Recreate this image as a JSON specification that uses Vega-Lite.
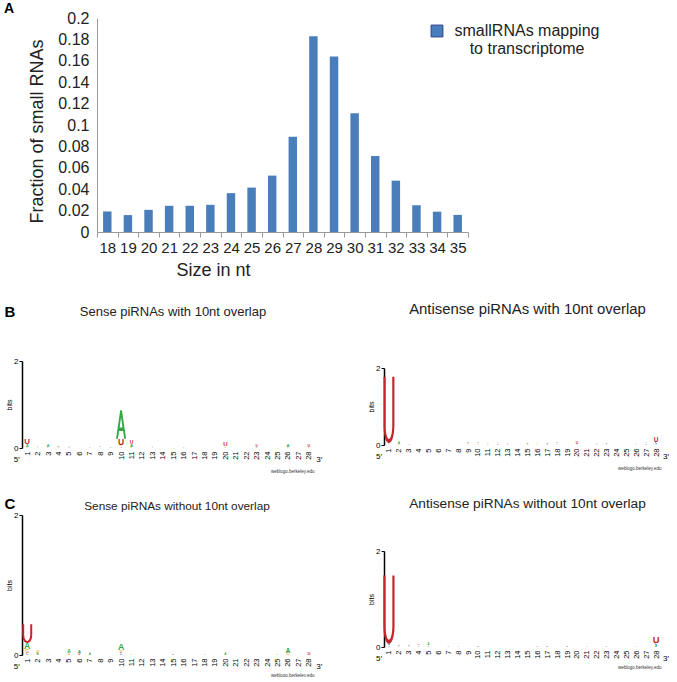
{
  "$schema": "https://vega.github.io/schema/vega-lite/v6.json",
  "background": "white",
  "padding": {"left": 4, "top": 2, "right": 0, "bottom": 0},
  "config": {"view": {"stroke": null}, "font": "Liberation Sans", "axis": {"labelFont": "Liberation Sans", "titleFont": "Liberation Sans"}},
  "datasets": {
    "bars": [
      {"size": 18, "fraction": 0.0192, "series": "smallRNAs mapping to transcriptome"},
      {"size": 19, "fraction": 0.0158, "series": "smallRNAs mapping to transcriptome"},
      {"size": 20, "fraction": 0.0207, "series": "smallRNAs mapping to transcriptome"},
      {"size": 21, "fraction": 0.0245, "series": "smallRNAs mapping to transcriptome"},
      {"size": 22, "fraction": 0.0245, "series": "smallRNAs mapping to transcriptome"},
      {"size": 23, "fraction": 0.0254, "series": "smallRNAs mapping to transcriptome"},
      {"size": 24, "fraction": 0.0363, "series": "smallRNAs mapping to transcriptome"},
      {"size": 25, "fraction": 0.0415, "series": "smallRNAs mapping to transcriptome"},
      {"size": 26, "fraction": 0.0527, "series": "smallRNAs mapping to transcriptome"},
      {"size": 27, "fraction": 0.089, "series": "smallRNAs mapping to transcriptome"},
      {"size": 28, "fraction": 0.183, "series": "smallRNAs mapping to transcriptome"},
      {"size": 29, "fraction": 0.164, "series": "smallRNAs mapping to transcriptome"},
      {"size": 30, "fraction": 0.111, "series": "smallRNAs mapping to transcriptome"},
      {"size": 31, "fraction": 0.071, "series": "smallRNAs mapping to transcriptome"},
      {"size": 32, "fraction": 0.048, "series": "smallRNAs mapping to transcriptome"},
      {"size": 33, "fraction": 0.025, "series": "smallRNAs mapping to transcriptome"},
      {"size": 34, "fraction": 0.019, "series": "smallRNAs mapping to transcriptome"},
      {"size": 35, "fraction": 0.016, "series": "smallRNAs mapping to transcriptome"}
    ],
    "BL": [
      {"pos": 1, "letter": "G", "bits": 0.03}, {"pos": 1, "letter": "A", "bits": 0.06}, {"pos": 1, "letter": "U", "bits": 0.13},
      {"pos": 2, "letter": "G", "bits": 0.02}, {"pos": 2, "letter": "A", "bits": 0.03},
      {"pos": 3, "letter": "G", "bits": 0.02}, {"pos": 3, "letter": "A", "bits": 0.06},
      {"pos": 4, "letter": "A", "bits": 0.03}, {"pos": 4, "letter": "U", "bits": 0.035},
      {"pos": 5, "letter": "C", "bits": 0.02}, {"pos": 5, "letter": "A", "bits": 0.025},
      {"pos": 7, "letter": "U", "bits": 0.015},
      {"pos": 8, "letter": "A", "bits": 0.01}, {"pos": 8, "letter": "U", "bits": 0.02},
      {"pos": 9, "letter": "U", "bits": 0.02},
      {"pos": 10, "letter": "C", "bits": 0.03}, {"pos": 10, "letter": "G", "bits": 0.04}, {"pos": 10, "letter": "U", "bits": 0.14}, {"pos": 10, "letter": "A", "bits": 0.66},
      {"pos": 11, "letter": "G", "bits": 0.03}, {"pos": 11, "letter": "A", "bits": 0.07}, {"pos": 11, "letter": "U", "bits": 0.08},
      {"pos": 13, "letter": "A", "bits": 0.02}, {"pos": 13, "letter": "G", "bits": 0.025},
      {"pos": 16, "letter": "A", "bits": 0.03},
      {"pos": 20, "letter": "G", "bits": 0.04}, {"pos": 20, "letter": "U", "bits": 0.1},
      {"pos": 23, "letter": "A", "bits": 0.03}, {"pos": 23, "letter": "U", "bits": 0.05},
      {"pos": 26, "letter": "G", "bits": 0.03}, {"pos": 26, "letter": "A", "bits": 0.07},
      {"pos": 28, "letter": "G", "bits": 0.02}, {"pos": 28, "letter": "U", "bits": 0.06}
    ],
    "BR": [
      {"pos": 1, "letter": "C", "bits": 0.02}, {"pos": 1, "letter": "A", "bits": 0.03}, {"pos": 1, "letter": "U", "bits": 1.72},
      {"pos": 2, "letter": "G", "bits": 0.03}, {"pos": 2, "letter": "A", "bits": 0.06},
      {"pos": 3, "letter": "A", "bits": 0.04},
      {"pos": 7, "letter": "A", "bits": 0.02},
      {"pos": 9, "letter": "A", "bits": 0.02}, {"pos": 9, "letter": "G", "bits": 0.03}, {"pos": 9, "letter": "U", "bits": 0.035},
      {"pos": 10, "letter": "A", "bits": 0.03}, {"pos": 10, "letter": "U", "bits": 0.03},
      {"pos": 11, "letter": "G", "bits": 0.03}, {"pos": 11, "letter": "A", "bits": 0.03},
      {"pos": 12, "letter": "U", "bits": 0.03}, {"pos": 12, "letter": "A", "bits": 0.03},
      {"pos": 13, "letter": "G", "bits": 0.02}, {"pos": 13, "letter": "U", "bits": 0.02},
      {"pos": 15, "letter": "A", "bits": 0.03}, {"pos": 15, "letter": "U", "bits": 0.04},
      {"pos": 16, "letter": "G", "bits": 0.03}, {"pos": 16, "letter": "A", "bits": 0.03},
      {"pos": 17, "letter": "A", "bits": 0.03}, {"pos": 17, "letter": "U", "bits": 0.04},
      {"pos": 18, "letter": "A", "bits": 0.03}, {"pos": 18, "letter": "U", "bits": 0.03},
      {"pos": 20, "letter": "A", "bits": 0.02}, {"pos": 20, "letter": "U", "bits": 0.06},
      {"pos": 22, "letter": "G", "bits": 0.02}, {"pos": 22, "letter": "A", "bits": 0.03},
      {"pos": 23, "letter": "A", "bits": 0.02}, {"pos": 23, "letter": "U", "bits": 0.03},
      {"pos": 26, "letter": "A", "bits": 0.02}, {"pos": 26, "letter": "G", "bits": 0.02},
      {"pos": 27, "letter": "C", "bits": 0.03}, {"pos": 27, "letter": "A", "bits": 0.03},
      {"pos": 28, "letter": "A", "bits": 0.03}, {"pos": 28, "letter": "C", "bits": 0.06}, {"pos": 28, "letter": "U", "bits": 0.12}
    ],
    "CL": [
      {"pos": 1, "letter": "C", "bits": 0.03}, {"pos": 1, "letter": "G", "bits": 0.05}, {"pos": 1, "letter": "A", "bits": 0.09}, {"pos": 1, "letter": "U", "bits": 0.27},
      {"pos": 2, "letter": "A", "bits": 0.03}, {"pos": 2, "letter": "G", "bits": 0.04},
      {"pos": 3, "letter": "G", "bits": 0.02},
      {"pos": 5, "letter": "G", "bits": 0.03}, {"pos": 5, "letter": "A", "bits": 0.05},
      {"pos": 6, "letter": "U", "bits": 0.03}, {"pos": 6, "letter": "A", "bits": 0.04},
      {"pos": 7, "letter": "A", "bits": 0.03},
      {"pos": 10, "letter": "C", "bits": 0.03}, {"pos": 10, "letter": "G", "bits": 0.04}, {"pos": 10, "letter": "A", "bits": 0.09},
      {"pos": 11, "letter": "G", "bits": 0.02},
      {"pos": 15, "letter": "U", "bits": 0.02},
      {"pos": 18, "letter": "A", "bits": 0.02},
      {"pos": 20, "letter": "A", "bits": 0.03},
      {"pos": 25, "letter": "G", "bits": 0.02},
      {"pos": 26, "letter": "G", "bits": 0.03}, {"pos": 26, "letter": "A", "bits": 0.07},
      {"pos": 28, "letter": "U", "bits": 0.04}
    ],
    "CR": [
      {"pos": 1, "letter": "C", "bits": 0.03}, {"pos": 1, "letter": "A", "bits": 0.04}, {"pos": 1, "letter": "U", "bits": 1.42},
      {"pos": 2, "letter": "A", "bits": 0.02}, {"pos": 2, "letter": "U", "bits": 0.03},
      {"pos": 3, "letter": "A", "bits": 0.02}, {"pos": 3, "letter": "U", "bits": 0.03},
      {"pos": 4, "letter": "A", "bits": 0.03}, {"pos": 4, "letter": "U", "bits": 0.035},
      {"pos": 5, "letter": "G", "bits": 0.03}, {"pos": 5, "letter": "A", "bits": 0.04},
      {"pos": 7, "letter": "A", "bits": 0.03},
      {"pos": 8, "letter": "A", "bits": 0.02},
      {"pos": 10, "letter": "U", "bits": 0.03},
      {"pos": 16, "letter": "U", "bits": 0.02},
      {"pos": 17, "letter": "U", "bits": 0.03},
      {"pos": 19, "letter": "U", "bits": 0.03},
      {"pos": 21, "letter": "A", "bits": 0.02},
      {"pos": 23, "letter": "U", "bits": 0.02},
      {"pos": 26, "letter": "A", "bits": 0.02},
      {"pos": 28, "letter": "A", "bits": 0.04}, {"pos": 28, "letter": "C", "bits": 0.05}, {"pos": 28, "letter": "U", "bits": 0.14}
    ],
    "ends": [
      {"pos": 0, "end": "5′"},
      {"pos": 29, "end": "3′"}
    ]
  },
  "vconcat": [
    {
      "title": {"text": "A", "anchor": "start", "fontSize": 14, "fontWeight": "bold", "dx": -18, "offset": -6, "color": "black"},
      "width": 446,
      "height": 214,
      "data": {"name": "bars"},
      "mark": {"type": "bar", "width": {"band": 0.41}},
      "encoding": {
        "x": {
          "field": "size", "type": "ordinal",
          "scale": {"paddingInner": 0, "paddingOuter": 0, "range": [75, 446]},
          "axis": {"title": "Size in nt", "labelAngle": 0, "labelFontSize": 15, "labelColor": "#222", "labelPadding": 3, "tickBand": "extent", "tickSize": 5, "tickColor": "#999", "domainColor": "#999", "titleFontSize": 18, "titleFontWeight": "normal", "titleColor": "#222", "titleX": 191, "titlePadding": 6}
        },
        "y": {
          "field": "fraction", "type": "quantitative",
          "scale": {"domain": [0, 0.2], "nice": false},
          "axis": {"offset": -75, "title": "Fraction of small RNAs", "values": [0, 0.02, 0.04, 0.06, 0.08, 0.1, 0.12, 0.14, 0.16, 0.18, 0.2], "format": "~g", "ticks": false, "grid": false, "labelFontSize": 16, "labelColor": "#222", "labelPadding": 8, "domainColor": "#999", "titleFontSize": 18, "titleFontWeight": "normal", "titleColor": "#222", "titlePadding": 11, "titleY": 113}
        },
        "color": {
          "field": "series", "type": "nominal",
          "scale": {"range": ["#4a7ebb"]},
          "legend": {"orient": "none", "legendX": 407, "legendY": 5, "title": null, "symbolType": "square", "symbolSize": 140, "symbolStrokeColor": "#2b3f8f", "symbolStrokeWidth": 1, "labelFontSize": 16, "labelColor": "#222", "labelExpr": "['smallRNAs mapping', 'to transcriptome']", "labelAlign": "center", "labelOffset": 82, "labelLimit": 300}
        }
      }
    },
    {
      "spacing": 44,
      "resolve": {"scale": {"color": "independent", "size": "independent"}, "legend": {"color": "independent", "size": "independent"}},
      "hconcat": [
        {
          "width": 292, "height": 87,
          "title": {"text": "Sense piRNAs with 10nt overlap", "font": "Liberation Sans", "fontSize": 13, "fontWeight": "normal", "color": "#222", "offset": -15, "dx": 5},
          "resolve": {"scale": {"size": "independent"}, "axis": {"x": "independent", "y": "independent"}},
          "layer": [
            {
              "data": {"name": "BL"},
              "transform": [{"stack": "bits", "groupby": ["pos"], "sort": [{"field": "bits", "order": "ascending"}], "as": ["y0", "y1"]}, {"filter": "datum.bits < 0.3"}],
              "mark": {"type": "text", "baseline": "alphabetic", "align": "center", "font": "Liberation Sans", "fontWeight": "bold"},
              "encoding": {
                "x": {"field": "pos", "type": "quantitative", "scale": {"domain": [0.5, 28.5], "nice": false, "zero": false},
                  "axis": {"values": [1,2,3,4,5,6,7,8,9,10,11,12,13,14,15,16,17,18,19,20,21,22,23,24,25,26,27,28], "labelAngle": 270, "labelAlign": "right", "labelBaseline": "middle", "labelFontSize": 7.5, "labelColor": "black", "labelPadding": 3, "labelFlush": false, "labelOverlap": false, "ticks": false, "domain": false, "grid": false, "title": "weblogo.berkeley.edu", "titleFontSize": 4.5, "titleFontWeight": "normal", "titleAnchor": "end", "titlePadding": 9, "titleColor": "#333"}},
                "y": {"field": "y0", "type": "quantitative", "scale": {"domain": [0, 2], "nice": false},
                  "axis": {"values": [0, 1, 2], "format": "d", "title": "bits", "titleFontSize": 7, "titleFontWeight": "normal", "titleColor": "black", "labelFontSize": 8, "labelColor": "black", "labelPadding": 1, "tickSize": 3, "tickColor": "black", "domainColor": "black", "domainWidth": 1.5, "grid": false, "titlePadding": 1}},
                "text": {"field": "letter"},
                "color": {"field": "letter", "type": "nominal", "scale": {"domain": ["A", "C", "G", "U"], "range": ["#35a845", "#3a5fcd", "#f5a623", "#c1272d"]}, "legend": null},
                "size": {"field": "bits", "type": "quantitative", "scale": {"domain": [0, 2], "range": [0, 121.5]}, "legend": null}
              }
            },
            {
              "data": {"name": "BL"},
              "transform": [{"stack": "bits", "groupby": ["pos"], "sort": [{"field": "bits", "order": "ascending"}], "as": ["y0", "y1"]}, {"filter": "datum.bits >= 0.3"}],
              "mark": {"type": "point", "shape": "M -0.35 0 L -0.06 -2 L 0.06 -2 L 0.35 0 L 0.22 0 L 0.14 -0.55 L -0.14 -0.55 L -0.22 0 Z M -0.1 -0.8 L 0.1 -0.8 L 0 -1.5 Z", "filled": true, "opacity": 1, "strokeWidth": 0},
              "encoding": {
                "x": {"field": "pos", "type": "quantitative", "axis": null},
                "y": {"field": "y0", "type": "quantitative", "axis": null},
                "color": {"field": "letter", "type": "nominal", "legend": null},
                "size": {"field": "bits", "type": "quantitative", "scale": {"type": "pow", "exponent": 2, "domain": [0, 2], "range": [0, 7569]}, "legend": null}
              }
            },
            {
              "data": {"name": "ends"},
              "mark": {"type": "text", "dy": 12, "fontSize": 8, "font": "Liberation Sans", "color": "black"},
              "encoding": {
                "x": {"field": "pos", "type": "quantitative", "axis": {"orient": "top", "title": "B", "labels": false, "ticks": false, "domain": false, "grid": false, "titleX": -18, "titleY": -45, "titleAlign": "left", "titleBaseline": "alphabetic", "titleFontSize": 15, "titleFontWeight": "bold", "titleColor": "black"}},
                "y": {"datum": 0, "axis": null},
                "text": {"field": "end"}
              }
            }
          ]
        },
        {
          "width": 277, "height": 84,
          "title": {"text": "Antisense piRNAs with 10nt overlap", "font": "Liberation Sans", "fontSize": 14.9, "fontWeight": "normal", "color": "#222", "offset": 44, "dx": 5},
          "resolve": {"scale": {"size": "independent"}, "axis": {"x": "independent", "y": "independent"}},
          "layer": [
            {
              "data": {"name": "BR"},
              "transform": [{"stack": "bits", "groupby": ["pos"], "sort": [{"field": "bits", "order": "ascending"}], "as": ["y0", "y1"]}, {"filter": "datum.bits < 0.3"}],
              "mark": {"type": "text", "baseline": "alphabetic", "align": "center", "font": "Liberation Sans", "fontWeight": "bold"},
              "encoding": {
                "x": {"field": "pos", "type": "quantitative", "scale": {"domain": [0.5, 28.5], "nice": false, "zero": false},
                  "axis": {"values": [1,2,3,4,5,6,7,8,9,10,11,12,13,14,15,16,17,18,19,20,21,22,23,24,25,26,27,28], "labelAngle": 270, "labelAlign": "right", "labelBaseline": "middle", "labelFontSize": 7.5, "labelColor": "black", "labelPadding": 3, "labelFlush": false, "labelOverlap": false, "ticks": false, "domain": false, "grid": false, "title": "weblogo.berkeley.edu", "titleFontSize": 4.5, "titleFontWeight": "normal", "titleAnchor": "end", "titlePadding": 9, "titleColor": "#333"}},
                "y": {"field": "y0", "type": "quantitative", "scale": {"domain": [0, 2], "nice": false, "range": [84, 7]},
                  "axis": {"values": [0, 1, 2], "format": "d", "title": "bits", "titleFontSize": 7, "titleFontWeight": "normal", "titleColor": "black", "labelFontSize": 8, "labelColor": "black", "labelPadding": 1, "tickSize": 3, "tickColor": "black", "domainColor": "black", "domainWidth": 1.5, "grid": false, "titlePadding": 1}},
                "text": {"field": "letter"},
                "color": {"field": "letter", "type": "nominal", "scale": {"domain": ["A", "C", "G", "U"], "range": ["#35a845", "#3a5fcd", "#f5a623", "#c1272d"]}, "legend": null},
                "size": {"field": "bits", "type": "quantitative", "scale": {"domain": [0, 2], "range": [0, 107.5]}, "legend": null}
              }
            },
            {
              "data": {"name": "BR"},
              "transform": [{"stack": "bits", "groupby": ["pos"], "sort": [{"field": "bits", "order": "ascending"}], "as": ["y0", "y1"]}, {"filter": "datum.bits >= 0.3"}],
              "mark": {"type": "point", "shape": "M -0.165 -2 L -0.165 -0.55 C -0.165 -0.2 -0.09 0 0 0 C 0.09 0 0.165 -0.2 0.165 -0.55 L 0.165 -2 L 0.1 -2 L 0.1 -0.55 C 0.1 -0.28 0.05 -0.12 0 -0.12 C -0.05 -0.12 -0.1 -0.28 -0.1 -0.55 L -0.1 -2 Z", "filled": true, "opacity": 1, "strokeWidth": 0},
              "encoding": {
                "x": {"field": "pos", "type": "quantitative", "axis": null},
                "y": {"field": "y0", "type": "quantitative", "axis": null},
                "color": {"field": "letter", "type": "nominal", "legend": null},
                "size": {"field": "bits", "type": "quantitative", "scale": {"type": "pow", "exponent": 2, "domain": [0, 2], "range": [0, 5929]}, "legend": null}
              }
            },
            {
              "data": {"name": "ends"},
              "mark": {"type": "text", "dy": 12, "fontSize": 8, "font": "Liberation Sans", "color": "black"},
              "encoding": {
                "x": {"field": "pos", "type": "quantitative", "axis": null},
                "y": {"datum": 0, "axis": null},
                "text": {"field": "end"}
              }
            }
          ]
        }
      ]
    },
    {
      "spacing": 44,
      "resolve": {"scale": {"color": "independent", "size": "independent"}, "legend": {"color": "independent", "size": "independent"}},
      "hconcat": [
        {
          "width": 292, "height": 140,
          "title": {"text": "Sense piRNAs without 10nt overlap", "font": "Liberation Sans", "fontSize": 11.8, "fontWeight": "normal", "color": "#222", "offset": -17, "dx": 9},
          "resolve": {"scale": {"size": "independent"}, "axis": {"x": "independent", "y": "independent"}},
          "layer": [
            {
              "data": {"name": "CL"},
              "transform": [{"stack": "bits", "groupby": ["pos"], "sort": [{"field": "bits", "order": "ascending"}], "as": ["y0", "y1"]}, {"filter": "datum.bits < 0.2"}],
              "mark": {"type": "text", "baseline": "alphabetic", "align": "center", "font": "Liberation Sans", "fontWeight": "bold"},
              "encoding": {
                "x": {"field": "pos", "type": "quantitative", "scale": {"domain": [0.5, 28.5], "nice": false, "zero": false},
                  "axis": {"values": [1,2,3,4,5,6,7,8,9,10,11,12,13,14,15,16,17,18,19,20,21,22,23,24,25,26,27,28], "labelAngle": 270, "labelAlign": "right", "labelBaseline": "middle", "labelFontSize": 7.5, "labelColor": "black", "labelPadding": 3, "labelFlush": false, "labelOverlap": false, "ticks": false, "domain": false, "grid": false, "title": "weblogo.berkeley.edu", "titleFontSize": 4.5, "titleFontWeight": "normal", "titleAnchor": "end", "titlePadding": 6, "titleColor": "#333"}},
                "y": {"field": "y0", "type": "quantitative", "scale": {"domain": [0, 2], "nice": false},
                  "axis": {"values": [0, 1, 2], "format": "d", "title": "bits", "titleFontSize": 7, "titleFontWeight": "normal", "titleColor": "black", "labelFontSize": 8, "labelColor": "black", "labelPadding": 1, "tickSize": 3, "tickColor": "black", "domainColor": "black", "domainWidth": 1.5, "grid": false, "titlePadding": 1}},
                "text": {"field": "letter"},
                "color": {"field": "letter", "type": "nominal", "scale": {"domain": ["A", "C", "G", "U"], "range": ["#35a845", "#3a5fcd", "#f5a623", "#c1272d"]}, "legend": null},
                "size": {"field": "bits", "type": "quantitative", "scale": {"domain": [0, 2], "range": [0, 195.5]}, "legend": null}
              }
            },
            {
              "data": {"name": "CL"},
              "transform": [{"stack": "bits", "groupby": ["pos"], "sort": [{"field": "bits", "order": "ascending"}], "as": ["y0", "y1"]}, {"filter": "datum.bits >= 0.2"}],
              "mark": {"type": "point", "shape": "M -0.53 -2 L -0.53 -0.9 C -0.53 -0.3 -0.28 0 0 0 C 0.28 0 0.53 -0.3 0.53 -0.9 L 0.53 -2 L 0.32 -2 L 0.32 -0.9 C 0.32 -0.5 0.17 -0.22 0 -0.22 C -0.17 -0.22 -0.32 -0.5 -0.32 -0.9 L -0.32 -2 Z", "filled": true, "opacity": 1, "strokeWidth": 0},
              "encoding": {
                "x": {"field": "pos", "type": "quantitative", "axis": null},
                "y": {"field": "y0", "type": "quantitative", "axis": null},
                "color": {"field": "letter", "type": "nominal", "legend": null},
                "size": {"field": "bits", "type": "quantitative", "scale": {"type": "pow", "exponent": 2, "domain": [0, 2], "range": [0, 19600]}, "legend": null}
              }
            },
            {
              "data": {"name": "ends"},
              "mark": {"type": "text", "dy": 12, "fontSize": 8, "font": "Liberation Sans", "color": "black"},
              "encoding": {
                "x": {"field": "pos", "type": "quantitative", "axis": {"orient": "top", "title": "C", "labels": false, "ticks": false, "domain": false, "grid": false, "titleX": -18, "titleY": -7, "titleAlign": "left", "titleBaseline": "alphabetic", "titleFontSize": 15, "titleFontWeight": "bold", "titleColor": "black"}},
                "y": {"datum": 0, "axis": null},
                "text": {"field": "end"}
              }
            }
          ]
        },
        {
          "width": 277, "height": 132,
          "title": {"text": "Antisense piRNAs without 10nt overlap", "font": "Liberation Sans", "fontSize": 13.7, "fontWeight": "normal", "color": "#222", "offset": 4, "dx": 5},
          "resolve": {"scale": {"size": "independent"}, "axis": {"x": "independent", "y": "independent"}},
          "layer": [
            {
              "data": {"name": "CR"},
              "transform": [{"stack": "bits", "groupby": ["pos"], "sort": [{"field": "bits", "order": "ascending"}], "as": ["y0", "y1"]}, {"filter": "datum.bits < 0.3"}],
              "mark": {"type": "text", "baseline": "alphabetic", "align": "center", "font": "Liberation Sans", "fontWeight": "bold"},
              "encoding": {
                "x": {"field": "pos", "type": "quantitative", "scale": {"domain": [0.5, 28.5], "nice": false, "zero": false},
                  "axis": {"values": [1,2,3,4,5,6,7,8,9,10,11,12,13,14,15,16,17,18,19,20,21,22,23,24,25,26,27,28], "labelAngle": 270, "labelAlign": "right", "labelBaseline": "middle", "labelFontSize": 7.5, "labelColor": "black", "labelPadding": 3, "labelFlush": false, "labelOverlap": false, "ticks": false, "domain": false, "grid": false, "title": "weblogo.berkeley.edu", "titleFontSize": 4.5, "titleFontWeight": "normal", "titleAnchor": "end", "titlePadding": 6, "titleColor": "#333"}},
                "y": {"field": "y0", "type": "quantitative", "scale": {"domain": [0, 2], "nice": false, "range": [132, 36]},
                  "axis": {"values": [0, 1, 2], "format": "d", "title": "bits", "titleFontSize": 7, "titleFontWeight": "normal", "titleColor": "black", "labelFontSize": 8, "labelColor": "black", "labelPadding": 1, "tickSize": 3, "tickColor": "black", "domainColor": "black", "domainWidth": 1.5, "grid": false, "titlePadding": 1}},
                "text": {"field": "letter"},
                "color": {"field": "letter", "type": "nominal", "scale": {"domain": ["A", "C", "G", "U"], "range": ["#35a845", "#3a5fcd", "#f5a623", "#c1272d"]}, "legend": null},
                "size": {"field": "bits", "type": "quantitative", "scale": {"domain": [0, 2], "range": [0, 134]}, "legend": null}
              }
            },
            {
              "data": {"name": "CR"},
              "transform": [{"stack": "bits", "groupby": ["pos"], "sort": [{"field": "bits", "order": "ascending"}], "as": ["y0", "y1"]}, {"filter": "datum.bits >= 0.3"}],
              "mark": {"type": "point", "shape": "M -0.165 -2 L -0.165 -0.55 C -0.165 -0.2 -0.09 0 0 0 C 0.09 0 0.165 -0.2 0.165 -0.55 L 0.165 -2 L 0.1 -2 L 0.1 -0.55 C 0.1 -0.28 0.05 -0.12 0 -0.12 C -0.05 -0.12 -0.1 -0.28 -0.1 -0.55 L -0.1 -2 Z", "filled": true, "opacity": 1, "strokeWidth": 0},
              "encoding": {
                "x": {"field": "pos", "type": "quantitative", "axis": null},
                "y": {"field": "y0", "type": "quantitative", "axis": null},
                "color": {"field": "letter", "type": "nominal", "legend": null},
                "size": {"field": "bits", "type": "quantitative", "scale": {"type": "pow", "exponent": 2, "domain": [0, 2], "range": [0, 9216]}, "legend": null}
              }
            },
            {
              "data": {"name": "ends"},
              "mark": {"type": "text", "dy": 12, "fontSize": 8, "font": "Liberation Sans", "color": "black"},
              "encoding": {
                "x": {"field": "pos", "type": "quantitative", "axis": null},
                "y": {"datum": 0, "axis": null},
                "text": {"field": "end"}
              }
            }
          ]
        }
      ]
    }
  ],
  "spacing": 23,
  "resolve": {"scale": {"color": "independent", "size": "independent"}, "legend": {"color": "independent", "size": "independent"}}
}
